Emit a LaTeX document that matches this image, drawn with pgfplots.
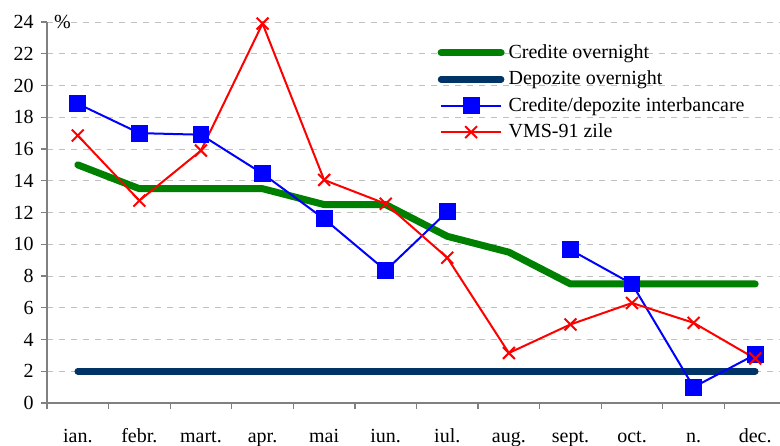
\documentclass[border=0pt]{standalone}
\usepackage{fontspec}
\setmainfont{Liberation Serif}
\usepackage{pgfplots}
\pgfplotsset{compat=1.18}
\definecolor{cgreen}{HTML}{008000}
\definecolor{cnavy}{HTML}{003366}
\definecolor{cgrid}{HTML}{C0C0C0}
\definecolor{caxis}{HTML}{808080}
\begin{document}
\begin{tikzpicture}
\useasboundingbox (-23.5pt,-21pt) rectangle (366.5pt,201.5pt);
\begin{axis}[
  scale only axis, width=369.5pt, height=190.5pt,
  xmin=-0.5, xmax=11.5, ymin=0, ymax=24,
  clip=false,
  axis x line=bottom, axis y line=left,
  axis line style={-, caxis, line width=0.6pt},
  ytick={0,2,...,24},
  ymajorgrids,
  grid style={cgrid, dash pattern=on 3pt off 3pt, line width=0.5pt},
  xtick={-0.5,0.5,...,11.5},
  x tick label as interval,
  xticklabels={ian.,febr.,mart.,apr.,mai,iun.,iul.,aug.,sept.,oct.,n.,dec.},
  tick align=outside, major tick length=3.2pt,
  tick style={caxis, line width=0.6pt},
  xticklabel style={yshift=-6pt, text height=0.7em, text depth=0.22em},
  ticklabel style={font=\fontsize{10}{12}\selectfont},
  /pgf/number format/assume math mode=true,
  unbounded coords=jump,
  legend style={at={(0.528,0.953)}, anchor=north west, draw=none, fill=none,
    font=\fontsize{10}{12}\selectfont, row sep=0.8pt, inner sep=0pt,
    cells={anchor=west}},
  legend image code/.code={\draw[mark repeat=2,mark phase=2,#1] plot coordinates {(0pt,0pt) (15pt,0pt) (30pt,0pt)};},
]
\addplot[cgreen, line width=3.5pt, line cap=round, line join=round] coordinates {
 (0,15) (1,13.5) (2,13.5) (3,13.5) (4,12.5) (5,12.5) (6,10.5) (7,9.5) (8,7.5) (9,7.5) (10,7.5) (11,7.5)};
\addlegendentry{Credite overnight}
\addplot[cnavy, line width=3.3pt, line cap=round, line join=round] coordinates {
 (0,2) (1,2) (2,2) (3,2) (4,2) (5,2) (6,2) (7,2) (8,2) (9,2) (10,2) (11,2)};
\addlegendentry{Depozite overnight}
\addplot[blue, line width=1pt, mark=square*, mark size=3.7pt, mark options={solid}] coordinates {
 (0,18.85) (1,17.0) (2,16.9) (3,14.45) (4,11.6) (5,8.35) (6,12.05) (7,nan) (8,9.65) (9,7.5) (10,1.0) (11,3.05)};
\addlegendentry{Credite/depozite interbancare}
\addplot[red, line width=1pt, mark=x, mark size=4.2pt, mark options={solid}] coordinates {
 (0,16.85) (1,12.75) (2,15.9) (3,23.9) (4,14.05) (5,12.55) (6,9.15) (7,3.15) (8,4.95) (9,6.3) (10,5.05) (11,2.8)};
\addlegendentry{VMS-91 zile}
\node[anchor=west, font=\fontsize{10}{12}\selectfont] at (rel axis cs:0,1) {\%};
\end{axis}
\end{tikzpicture}
\end{document}
